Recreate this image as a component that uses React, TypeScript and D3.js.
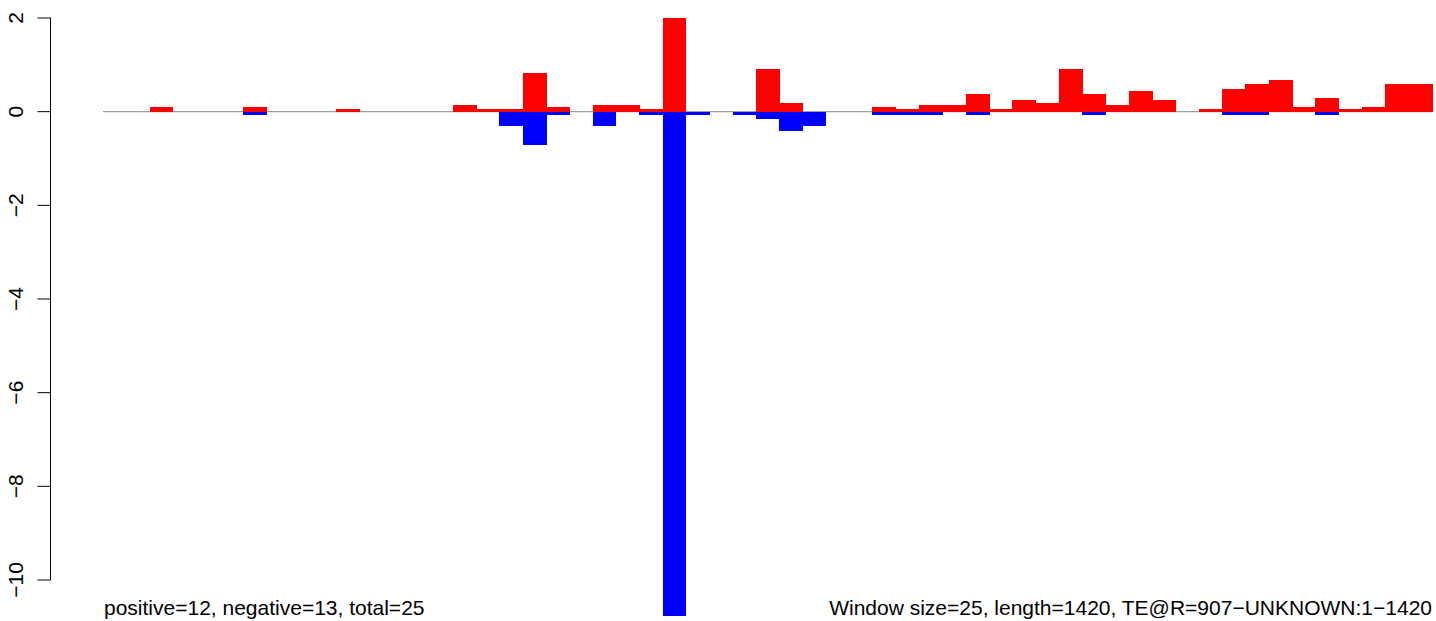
import React from "react";
import * as d3 from "d3";

// window index 0..56 (window size 25, length 1420)
const windows: number[] = d3.range(57);
const positiveValues: number[] = [
  0, 0, 0.1, 0, 0, 0, 0.1, 0, 0, 0,
  0.06, 0, 0, 0, 0, 0.15, 0.06, 0.06, 0.83, 0.1,
  0, 0.15, 0.15, 0.06, 2.0, 0, 0, 0, 0.92, 0.19,
  0, 0, 0, 0.1, 0.06, 0.15, 0.15, 0.38, 0.06, 0.25,
  0.19, 0.92, 0.38, 0.15, 0.45, 0.25, 0, 0.06, 0.49, 0.6,
  0.68, 0.1, 0.3, 0.06, 0.1, 0.6, 0.6,
];
const negativeValues: number[] = [
  0, 0, 0, 0, 0, 0, -0.07, 0, 0, 0,
  0, 0, 0, 0, 0, 0, 0, -0.3, -0.72, -0.07,
  0, -0.3, 0, -0.07, -10.77, -0.07, 0, -0.07, -0.15, -0.41,
  -0.3, 0, 0, -0.07, -0.07, -0.07, 0, -0.07, 0, 0,
  0, 0, -0.07, 0, 0, 0, 0, 0, -0.07, -0.07,
  0, 0, -0.07, 0, 0, 0, 0,
];
const yTicks: number[] = [2, 0, -2, -4, -6, -8, -10];
const leftNote = "positive=12, negative=13, total=25";
const rightNote = "Window size=25, length=1420, TE@R=907\u2212UNKNOWN:1\u22121420";

const W = 1436;
const H = 621;
const FONT = "'Liberation Sans', Arial, Helvetica, sans-serif";

export default function App() {
  const x = d3.scaleBand<number>().domain(windows).range([103, 1432]).padding(0);
  const y = d3.scaleLinear().domain([-10, 2]).range([580, 18]);
  const fmt = (v: number) => (v < 0 ? "\u2212" + Math.abs(v) : String(v));
  const bw = x.bandwidth();
  return (
    <svg
      width={W}
      height={H}
      style={{ position: "absolute", left: 0, top: 0, background: "#fff" }}
      fontFamily={FONT}
    >
      <defs>
        <clipPath id="plotclip">
          <rect x={0} y={0} width={W} height={617} />
        </clipPath>
      </defs>
      {/* zero line */}
      <line x1={103} x2={1432} y1={y(0)} y2={y(0)} stroke="#9e9e9e" strokeWidth={1.3} />
      <g clipPath="url(#plotclip)" shapeRendering="crispEdges">
        {windows.map((w, i) =>
          positiveValues[i] > 0 ? (
            <rect
              key={"p" + w}
              x={x(w)!}
              y={y(positiveValues[i])}
              width={bw + 0.5}
              height={y(0) - y(positiveValues[i])}
              fill="#ff0000"
            />
          ) : null
        )}
        {windows.map((w, i) =>
          negativeValues[i] < 0 ? (
            <rect
              key={"n" + w}
              x={x(w)!}
              y={y(0)}
              width={bw + 0.5}
              height={y(negativeValues[i]) - y(0)}
              fill="#0000ff"
            />
          ) : null
        )}
      </g>
      {/* y axis */}
      <line x1={50.5} x2={50.5} y1={y(2)} y2={y(-10)} stroke="#000" strokeWidth={1} />
      {yTicks.map((t) => (
        <g key={t}>
          <line x1={37.5} x2={50.5} y1={y(t)} y2={y(t)} stroke="#000" strokeWidth={1} />
          <text
            transform={`translate(23,${y(t)}) rotate(-90)`}
            textAnchor="middle"
            fontSize={21}
            fill="#000"
          >
            {fmt(t)}
          </text>
        </g>
      ))}
      <text x={104} y={615} fontSize={21} fill="#000">
        {leftNote}
      </text>
      <text x={1432} y={615} fontSize={21} textAnchor="end" fill="#000">
        {rightNote}
      </text>
    </svg>
  );
}
